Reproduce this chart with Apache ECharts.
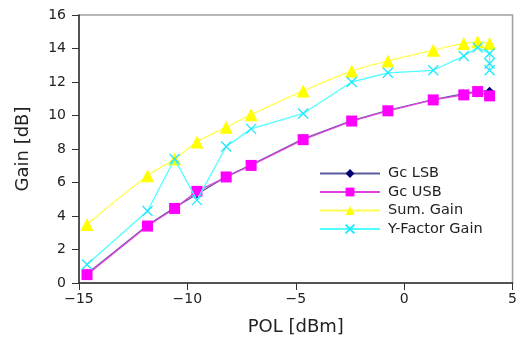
<!DOCTYPE html>
<html><head><meta charset="utf-8">
<script src="https://cdn.jsdelivr.net/npm/echarts@6/dist/echarts.min.js"></script>
<style>html,body{margin:0;padding:0;background:#fff}#c{width:520px;height:341px}</style>
</head><body><div id="c"></div>
<script>
const pol = [-14.63, -11.84, -10.59, -9.56, -8.21, -7.06, -4.66, -2.42, -0.75, 1.34, 2.75, 3.39, 3.94];
const gcLSB = [0.55, 3.45, 4.5, 5.3, 6.35, 7.05, 8.6, 9.7, 10.3, 10.95, 11.3, 11.45, 11.45];
const gcUSB = [0.5, 3.4, 4.45, 5.47, 6.33, 7.02, 8.56, 9.67, 10.28, 10.93, 11.23, 11.43, 11.17];
const sumGain = [3.5, 6.4, 7.4, 8.42, 9.3, 10.05, 11.47, 12.65, 13.25, 13.9, 14.3, 14.4, 14.3];
const yfPol = [-14.63, -11.84, -10.59, -9.56, -8.21, -7.06, -4.66, -2.42, -0.75, 1.34, 2.75, 3.39, 3.94, 3.94, 3.94];
const yfGain = [1.1, 4.3, 7.4, 4.95, 8.15, 9.2, 10.12, 12.0, 12.55, 12.7, 13.55, 14.05, 13.7, 13.1, 12.7];
const xTicks = {min: -15, max: 5, interval: 5};
const yTicks = {min: 0, max: 16, interval: 2};

const pair = (xs, ys) => xs.map((x, i) => [x, ys[i]]);
const font = 'DejaVu Sans';
const cross = 'path://M0,0L10,10M10,0L0,10';
const chart = echarts.init(document.getElementById('c'), null, {renderer: 'canvas'});
chart.setOption({
  animation: false,
  backgroundColor: '#fff',
  grid: {left: 79, right: 6, top: 15, bottom: 56, show: true, borderColor: '#a0a0a0', borderWidth: 1.5},
  legend: {
    left: 319, top: 166, orient: 'vertical', padding: 0, itemWidth: 60, itemHeight: 11, itemGap: 3.5,
    textStyle: {fontFamily: font, fontSize: 14.5, lineHeight: 15, color: '#222', padding: [0, 0, 0, 3]},
    data: ['Gc LSB', 'Gc USB', 'Sum. Gain', 'Y-Factor Gain']
  },
  xAxis: {
    type: 'value', min: xTicks.min, max: xTicks.max, interval: xTicks.interval,
    name: 'POL [dBm]', nameLocation: 'middle', nameGap: 35,
    nameTextStyle: {fontFamily: font, fontSize: 18, color: '#222'},
    axisLine: {onZero: false, lineStyle: {color: '#333', width: 1.5}},
    axisTick: {inside: false, length: 7, lineStyle: {color: '#333'}},
    axisLabel: {fontFamily: font, fontSize: 14, color: '#222', margin: 9,
      formatter: v => String(v).replace('-', '\u2212')},
    splitLine: {show: false}
  },
  yAxis: {
    type: 'value', min: yTicks.min, max: yTicks.max, interval: yTicks.interval,
    name: 'Gain [dB]', nameLocation: 'middle', nameGap: 47,
    nameTextStyle: {fontFamily: font, fontSize: 18, color: '#222'},
    axisLine: {show: true, onZero: false, lineStyle: {color: '#333', width: 1.5}},
    axisTick: {show: true, inside: false, length: 7, lineStyle: {color: '#333'}},
    axisLabel: {fontFamily: font, fontSize: 14, color: '#222', margin: 13},
    splitLine: {show: false}
  },
  series: [
    {name: 'Gc LSB', type: 'line', data: pair(pol, gcLSB), symbol: 'diamond', symbolSize: 9,
     itemStyle: {color: '#000070'}, lineStyle: {color: '#5a5aa0', width: 1.3}, z: 2},
    {name: 'Gc USB', type: 'line', data: pair(pol, gcUSB), symbol: 'rect', symbolSize: 11,
     itemStyle: {color: '#ff00ff'}, lineStyle: {color: '#e040e0', width: 1.3}, z: 3},
    {name: 'Sum. Gain', type: 'line', data: pair(pol, sumGain), symbol: 'triangle', symbolSize: 13, smooth: 0.3,
     itemStyle: {color: '#ffff00'}, lineStyle: {color: '#ffff50', width: 1.3}, z: 4},
    {name: 'Y-Factor Gain', type: 'line', data: pair(yfPol, yfGain), symbol: cross, symbolSize: 10,
     itemStyle: {color: 'rgba(0,0,0,0)', borderColor: '#20e8ff', borderWidth: 1.3},
     lineStyle: {color: '#50ffff', width: 1.3}, z: 5}
  ]
});
</script></body></html>
